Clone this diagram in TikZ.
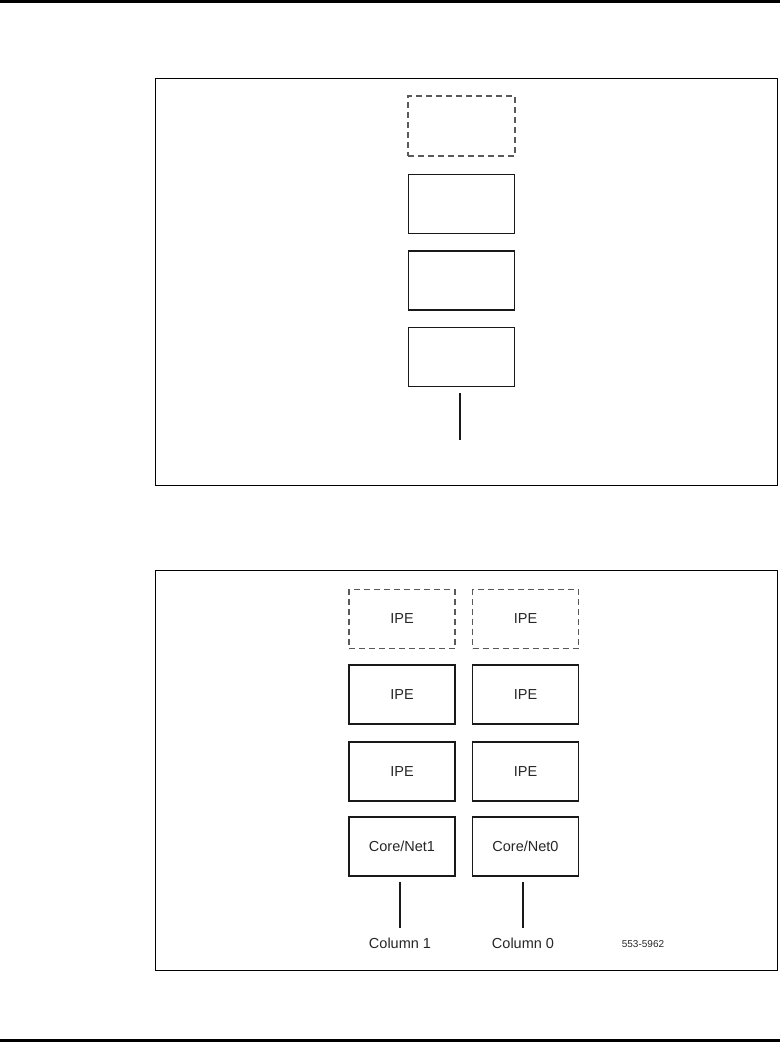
\documentclass[tikz,border=0pt]{standalone}
\usepackage{fontspec}
\setmainfont{Liberation Sans}
\begin{document}
\begin{tikzpicture}[x=1pt,y=-1pt,
  frame/.style={draw=black,line width=0.9pt},
  unit/.style={draw=black!90,line width=1.5pt},
  spare/.style={draw=black!65,line width=1.1pt,dash pattern=on 6pt off 4pt},
  lbl/.style={font=\fontsize{14.5}{17}\selectfont,text=black!85},
  cable/.style={draw=black!90,line width=1.6pt}]
\useasboundingbox (0,0) rectangle (780,1042);
% page rules
\draw[line width=3pt] (0,1.5) -- (780,1.5);
\draw[line width=3pt] (0,1040.5) -- (780,1040.5);
% ---------- top figure ----------
\draw[frame] (155,78) rectangle (777,485);
\node[spare,minimum width=107pt,minimum height=60pt,inner sep=0] (t0) at (461.5,126) {};
\node[unit,minimum width=106pt,minimum height=59pt,inner sep=0] (t1) at (461.5,204) {};
\node[unit,minimum width=106pt,minimum height=59pt,inner sep=0] (t2) at (461.5,280.5) {};
\node[unit,minimum width=106pt,minimum height=59pt,inner sep=0] (t3) at (461.5,357) {};
\coordinate (tc) at (460,440);
\draw[cable] (460,393) -- (tc);
% ---------- bottom figure ----------
\draw[frame] (155,570) rectangle (777,970);
\begin{scope}[every node/.style={lbl,inner sep=0,minimum width=106pt,minimum height=59pt}]
\node[spare] (a0) at (402,619) {IPE};
\node[spare] (b0) at (525.5,619) {IPE};
\node[unit] (a1) at (402,694.5) {IPE};
\node[unit] (b1) at (525.5,694.5) {IPE};
\node[unit] (a2) at (402,771.5) {IPE};
\node[unit] (b2) at (525.5,771.5) {IPE};
\node[unit] (a3) at (402,846.5) {Core/Net1};
\node[unit] (b3) at (525.5,846.5) {Core/Net0};
\end{scope}
\node[lbl] (c1) at (400,943) {Column 1};
\node[lbl] (c0) at (523,943) {Column 0};
\draw[cable,shorten >=6pt] (400,882) -- (c1.north);
\draw[cable,shorten >=6pt] (523,882) -- (c0.north);
\node[font=\fontsize{10}{12}\selectfont,text=black!85] (fig) at (643,944) {553-5962};
\end{tikzpicture}
\end{document}
